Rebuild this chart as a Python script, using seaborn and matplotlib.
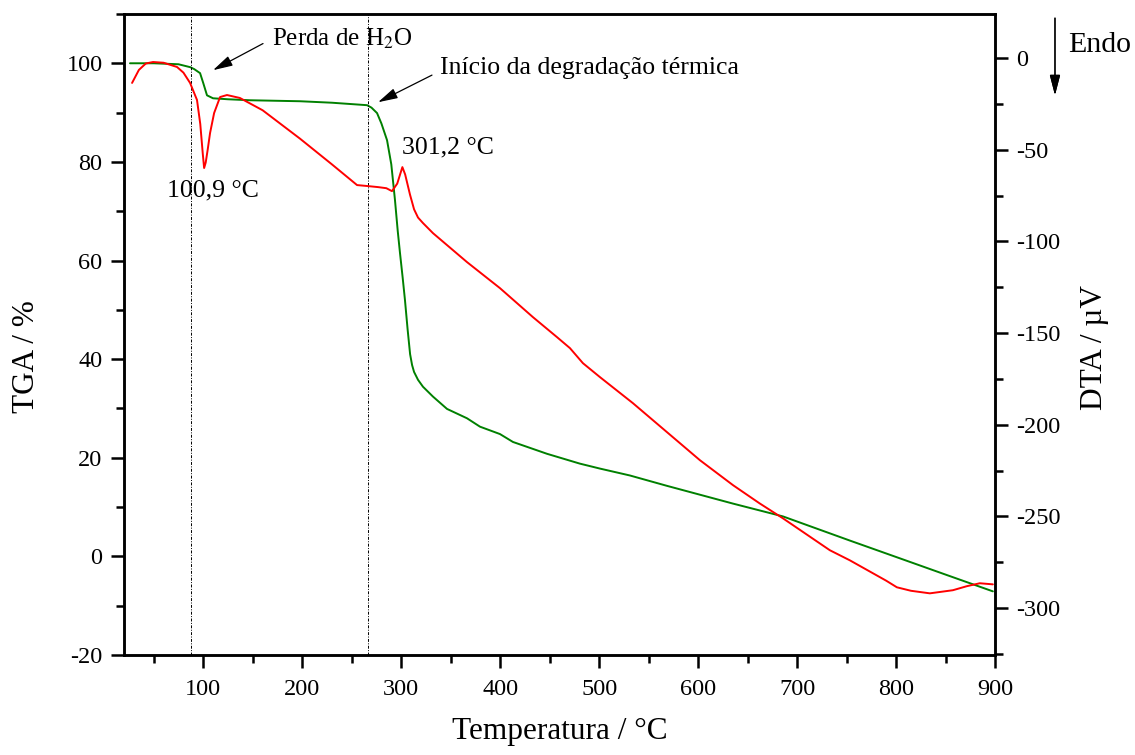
import numpy as np
import pandas as pd
import matplotlib.pyplot as plt
import seaborn as sns
from matplotlib.ticker import MultipleLocator

# TGA (green, left axis)
temp_tga = [26, 50, 75, 87, 91, 96.8, 100, 103.8, 109.9, 125, 147.3, 197.8, 230, 265.5, 270,
            275.6, 280, 285.7, 290, 293.7, 296.5, 298.8, 301.5, 303.8, 306.5, 309, 311, 313,
            317, 322, 332.1, 346.3, 366.5, 379.6, 399.8, 412.9, 447.3, 480.6, 500.8, 531.1,
            568.5, 635.2, 685.7, 753.3, 803.8, 850, 897.8]
tga = [100.0, 100.0, 99.8, 99.2, 98.8, 98.0, 96.0, 93.5, 92.9, 92.7, 92.5, 92.3, 92.0, 91.5, 91.0,
       89.9, 87.8, 84.4, 79.5, 72.3, 66.0, 61.5, 56.5, 52.0, 46.0, 41.0, 38.8, 37.4,
       35.8, 34.4, 32.4, 29.9, 28.0, 26.3, 24.8, 23.2, 20.8, 18.8, 17.8, 16.4,
       14.3, 10.7, 8.1, 3.2, -0.4, -3.7, -7.1]

# DTA (red, right axis)
temp_dta = [28.1, 35, 42, 49.3, 60, 73.5, 80, 86.7, 93.7, 97, 99.5, 100.9, 102.5, 104.5, 106.9,
            111, 117, 124, 137, 160, 197.8, 230, 255.4, 265.5, 276.6, 285, 290.7, 296, 301.2,
            304, 308.9, 313, 317, 322, 332.1, 366.5, 399.8, 433.1, 457.4, 470.5, 483.6, 500.8,
            534.1, 568.5, 601.8, 635.2, 662, 685.7, 733.1, 753.3, 790, 800.8, 815, 834.1,
            857.4, 871.5, 884.6, 897.8]
dta = [-13.6, -6.5, -3.0, -2.2, -2.6, -4.9, -8.0, -13.6, -22.9, -36.0, -52.0, -60.0, -57.0, -50.0,
       -40.9, -30.0, -21.3, -20.2, -21.8, -28.5, -44.0, -58.0, -69.3, -69.8, -70.4, -71.0, -72.6,
       -68.5, -59.5, -63.5, -74.5, -82.5, -87.0, -90.0, -95.5, -111.3, -125.5, -141.3, -152.2,
       -158.2, -166.4, -174.0, -188.2, -204.0, -219.3, -232.9, -242.8, -251.0, -268.4, -273.9,
       -285.0, -288.6, -290.5, -291.9, -290.2, -288.0, -286.4, -287.0]

sns.set_style("ticks")
plt.rcParams['font.family'] = ['Liberation Serif', 'DejaVu Serif']
plt.rcParams['mathtext.fontset'] = 'stix'
plt.rcParams['axes.unicode_minus'] = False
plt.rcParams['text.color'] = 'black'
plt.rcParams['axes.labelcolor'] = 'black'

fig = plt.figure(figsize=(11.35, 7.55), dpi=100)
ax = fig.add_axes([0.1093, 0.1325, 0.7674, 0.849])
ax2 = ax.twinx()

sns.lineplot(x=temp_tga, y=tga, ax=ax, color='#008000', lw=1.4, sort=False)
sns.lineplot(x=temp_dta, y=dta, ax=ax2, color='#ff0000', lw=1.4, sort=False)

ax.set_xlim(20, 900)
ax.set_ylim(-20, 110)
ax2.set_ylim(-325.5, 24)

ax.xaxis.set_major_locator(MultipleLocator(100))
ax.xaxis.set_minor_locator(MultipleLocator(50))
ax.yaxis.set_major_locator(MultipleLocator(20))
ax.yaxis.set_minor_locator(MultipleLocator(10))
ax2.yaxis.set_major_locator(MultipleLocator(50))
ax2.yaxis.set_minor_locator(MultipleLocator(25))

for a in (ax, ax2):
    for s in a.spines.values():
        s.set_linewidth(1.8)
        s.set_color('black')
    a.tick_params(which='major', length=9.5, width=1.8, labelsize=17.5,
                  colors='black', labelcolor='black')
    a.tick_params(which='minor', length=5.5, width=1.8, colors='black')
ax.tick_params(which='both', top=False, right=False)
ax.tick_params(axis='x', pad=8)
ax.tick_params(axis='y', pad=6)
ax2.tick_params(axis='y', pad=6)

ax.set_xlabel('Temperatura / °C', fontsize=22.5, labelpad=12)
ax.set_ylabel('TGA / %', fontsize=22.5)
ax2.set_ylabel('DTA / µV', fontsize=22.5)
ax.yaxis.set_label_coords(-0.095, 0.466)
ax2.yaxis.set_label_coords(1.098, 0.479)

# marcadores dos eventos
ls_dash = (0, (3, 1.5, 1, 1.5))
ax.axvline(88, color='black', lw=0.7, ls=ls_dash)
ax.axvline(266.5, color='black', lw=0.7, ls=ls_dash)

arrow = dict(arrowstyle='-|>,head_length=0.6,head_width=0.16', color='black',
             lw=0.9, mutation_scale=20, shrinkA=0, shrinkB=0)
ax.annotate('', xy=(109.9, 98.6), xytext=(160.4, 104.0), arrowprops=arrow)
ax.text(169.5, 105, 'Perda de H$_2$O', fontsize=18, ha='left', va='center')
ax.annotate('', xy=(276.6, 92.1), xytext=(331.1, 97.6), arrowprops=arrow)
ax.text(339.2, 99, 'Início da degradação térmica', fontsize=18.5, ha='left', va='center')
ax.text(63.4, 74.3, '100,9 °C', fontsize=18.5, ha='left', va='center')
ax.text(300.8, 83.0, '301,2 °C', fontsize=18.5, ha='left', va='center')

fig.text(0.941, 0.940, 'Endo', fontsize=21.5, ha='left', va='center')
fig.add_artist(plt.annotate('', xy=(0.9295, 0.874), xytext=(0.9295, 0.976),
                            xycoords='figure fraction', textcoords='figure fraction',
                            arrowprops=dict(arrowstyle='-|>,head_length=0.62,head_width=0.16',
                                            color='black', lw=0.9, mutation_scale=20,
                                            shrinkA=0, shrinkB=0)))

fig.savefig('out.png', dpi=100)
